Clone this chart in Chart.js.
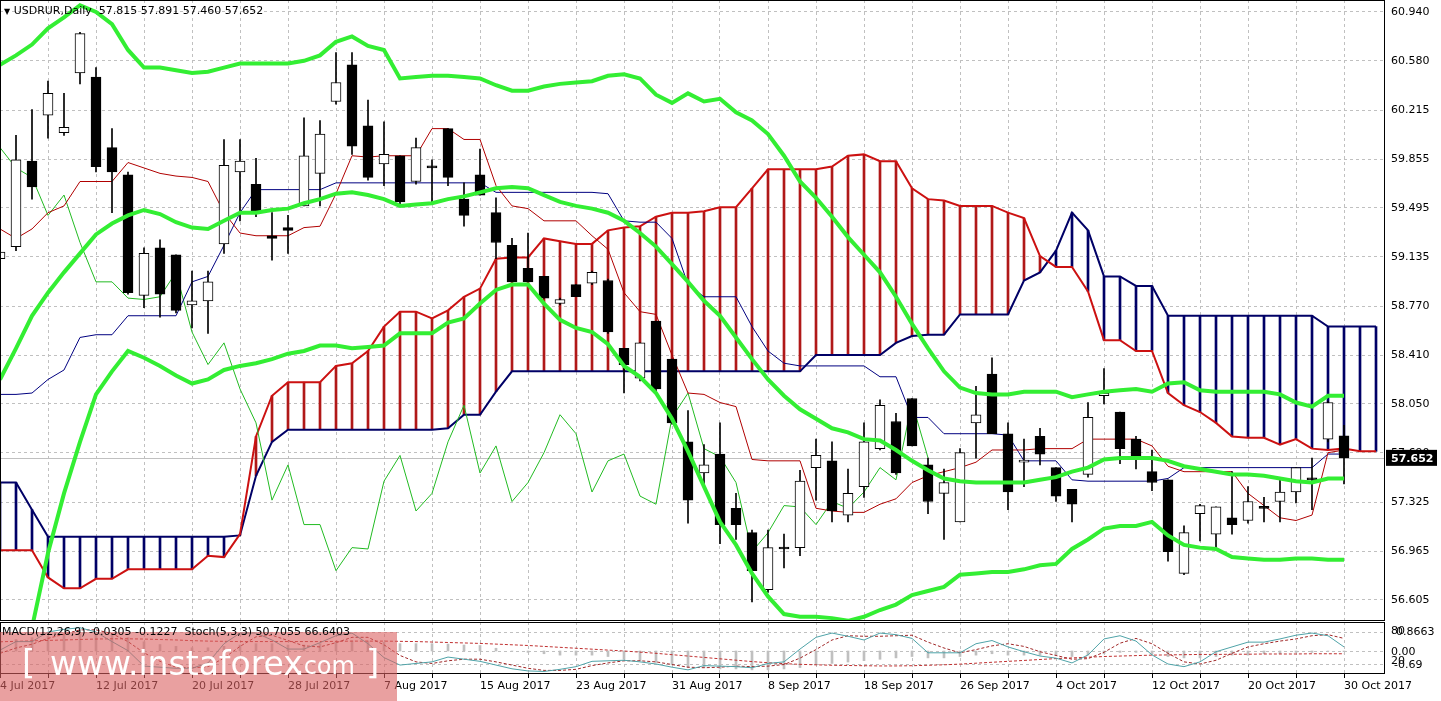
<!DOCTYPE html>
<html>
<head>
<meta charset="utf-8">
<script src="https://cdn.jsdelivr.net/npm/chart.js@4.4.0/dist/chart.umd.min.js"></script>
<style>
  body { margin: 0; background: #fff; width: 1441px; height: 701px; overflow: hidden; position: relative; font-family: "DejaVu Sans", sans-serif; }
  #main { position: absolute; left: 0; top: 0; width: 1441px; height: 621px; }
  #sub { position: absolute; left: 0; top: 621px; width: 1441px; height: 80px; }
  .hdr { position: absolute; font-size: 11px; color: #000; white-space: pre; z-index: 5; }
  #wm { position: absolute; left: 0; top: 632px; width: 397px; height: 69px; background: rgba(218, 96, 96, 0.6); z-index: 3; color: #fff; }
  #wm span { position: absolute; font-family: "DejaVu Sans", sans-serif; }
</style>
</head>
<body>
<div id="main"><canvas id="c1"></canvas></div>
<div id="sub"><canvas id="c2"></canvas></div>
<div class="hdr" style="left:4px;top:4px;"><span style="font-size:8px">▼</span> USDRUR,Daily  57.815 57.891 57.460 57.652</div>
<div class="hdr" style="left:2px;top:625px;">MACD(12,26,9) -0.0305 -0.1227  Stoch(5,3,3) 50.7055 66.6403</div>
<div id="wm">
  <span style="left:22px;top:10px;font-size:34px;">[</span>
  <span style="left:50px;top:12px;font-size:33px;">www.instaforex</span>
  <span style="left:296px;top:20px;font-size:24px;">.com</span>
  <span style="left:366px;top:10px;font-size:34px;">]</span>
</div>
<script>
// daily candles, bar 0 = 4 Jul 2017 ... bar 84 = 30 Oct 2017
const open  = [59.12,59.21,59.84,60.18,60.05,60.49,60.46,59.94,59.74,58.85,59.20,59.15,58.78,58.81,59.23,59.76,59.67,59.29,59.35,59.51,59.75,60.28,60.55,60.10,59.82,59.88,59.69,59.80,60.08,59.56,59.74,59.46,59.22,59.05,58.99,58.79,58.93,58.94,58.96,58.46,58.24,58.66,58.38,57.77,57.54,57.68,57.28,57.10,56.68,56.99,56.99,57.58,57.63,57.23,57.44,57.72,57.92,58.09,57.60,57.39,57.18,57.91,58.27,57.83,57.62,57.81,57.58,57.42,57.53,58.11,57.99,57.79,57.55,57.49,56.80,57.24,57.09,57.21,57.19,57.29,57.33,57.40,57.50,57.79,57.815];
const high  = [59.18,60.03,60.22,60.43,60.34,60.79,60.53,60.08,59.76,59.20,59.26,59.15,59.03,59.03,60.00,60.00,59.86,59.46,59.44,60.16,60.14,60.64,60.64,60.29,60.13,59.88,60.01,59.85,60.08,59.68,59.93,59.57,59.27,59.31,58.99,58.83,58.93,59.03,58.97,58.46,58.50,58.66,58.38,58.00,57.75,57.91,57.39,57.12,57.12,57.09,57.56,57.79,57.77,57.57,57.91,58.08,57.98,58.09,57.65,57.57,57.72,58.18,58.39,57.91,57.79,57.87,57.58,57.42,58.06,58.31,57.99,57.81,57.71,57.49,57.15,57.31,57.29,57.55,57.44,57.36,57.49,57.58,57.65,58.07,57.891];
const low   = [58.93,59.18,59.56,60.01,60.03,60.41,59.76,59.46,58.86,58.76,58.69,58.72,58.61,58.57,59.16,59.40,59.43,59.11,59.16,59.51,59.51,60.26,59.89,59.70,59.66,59.52,59.67,59.54,59.66,59.36,59.59,59.12,58.95,58.95,58.83,58.78,58.84,58.93,58.57,58.13,58.22,58.13,57.90,57.17,57.44,57.02,57.05,56.59,56.66,56.84,56.93,57.34,57.18,57.18,57.36,57.71,57.53,57.74,57.24,57.05,57.18,57.65,57.83,57.27,57.44,57.60,57.33,57.18,57.51,58.05,57.61,57.57,57.41,56.89,56.79,57.04,56.99,57.09,57.17,57.18,57.18,57.32,57.27,57.77,57.460];
const close = [59.17,59.85,59.65,60.34,60.09,60.78,59.80,59.76,58.87,59.16,58.86,58.74,58.81,58.95,59.81,59.84,59.47,59.27,59.33,59.88,60.04,60.42,59.95,59.72,59.89,59.54,59.94,59.79,59.72,59.44,59.59,59.24,58.95,58.95,58.83,58.82,58.84,59.02,58.58,58.34,58.50,58.16,57.91,57.34,57.60,57.16,57.16,56.82,56.99,56.98,57.48,57.67,57.26,57.39,57.77,58.04,57.54,57.74,57.33,57.47,57.69,57.97,57.83,57.40,57.63,57.68,57.37,57.31,57.95,58.13,57.72,57.66,57.47,56.96,57.10,57.30,57.29,57.16,57.33,57.28,57.40,57.58,57.49,58.06,57.652];

// ichimoku
const tenkan = [59.34,59.27,59.34,59.46,59.51,59.69,59.69,59.69,59.83,59.79,59.75,59.73,59.72,59.69,59.46,59.31,59.29,59.29,59.29,59.35,59.36,59.60,59.88,59.87,59.88,59.88,59.88,60.08,60.08,60.00,60.00,59.66,59.51,59.49,59.40,59.40,59.40,59.29,59.19,58.87,58.73,58.71,58.41,58.13,58.12,58.06,58.03,57.64,57.63,57.63,57.63,57.28,57.26,57.25,57.25,57.31,57.35,57.47,57.52,57.55,57.58,57.62,57.71,57.71,57.71,57.72,57.72,57.72,57.79,57.79,57.79,57.79,57.74,57.59,57.55,57.55,57.55,57.55,57.39,57.30,57.21,57.19,57.23,57.69,57.71];
const kijun  = [58.12,58.12,58.13,58.23,58.30,58.54,58.56,58.56,58.70,58.70,58.70,58.70,58.95,58.99,59.22,59.46,59.63,59.63,59.63,59.63,59.63,59.68,59.68,59.68,59.68,59.68,59.68,59.68,59.68,59.68,59.68,59.61,59.61,59.61,59.61,59.61,59.61,59.61,59.60,59.40,59.39,59.39,59.27,58.93,58.84,58.84,58.84,58.62,58.44,58.35,58.33,58.33,58.33,58.33,58.33,58.25,58.25,57.95,57.95,57.83,57.83,57.83,57.83,57.82,57.63,57.63,57.63,57.49,57.48,57.48,57.48,57.48,57.48,57.50,57.58,57.58,57.58,57.58,57.58,57.58,57.58,57.58,57.58,57.68,57.68];
const spanA  = [56.97,56.97,56.97,56.77,56.69,56.69,56.76,56.76,56.83,56.83,56.83,56.83,56.83,56.93,56.92,57.09,57.81,58.11,58.21,58.21,58.21,58.33,58.35,58.44,58.62,58.73,58.73,58.68,58.74,58.84,58.90,59.12,59.13,59.13,59.27,59.25,59.23,59.23,59.33,59.35,59.36,59.43,59.46,59.46,59.47,59.50,59.50,59.64,59.78,59.78,59.78,59.78,59.80,59.88,59.89,59.84,59.84,59.64,59.56,59.55,59.51,59.51,59.51,59.46,59.42,59.14,59.06,59.06,58.88,58.52,58.52,58.44,58.44,58.13,58.04,57.99,57.91,57.81,57.80,57.80,57.75,57.79,57.72,57.71,57.72,57.70,57.70];
const spanB  = [57.47,57.47,57.27,57.07,57.07,57.07,57.07,57.07,57.07,57.07,57.07,57.07,57.07,57.07,57.07,57.08,57.52,57.77,57.86,57.86,57.86,57.86,57.86,57.86,57.86,57.86,57.86,57.86,57.87,57.97,57.97,58.14,58.29,58.29,58.29,58.29,58.29,58.29,58.29,58.29,58.29,58.29,58.29,58.29,58.29,58.29,58.29,58.29,58.29,58.29,58.29,58.41,58.41,58.41,58.41,58.41,58.50,58.55,58.56,58.56,58.71,58.71,58.71,58.71,58.96,59.02,59.18,59.46,59.33,58.99,58.99,58.92,58.92,58.70,58.70,58.70,58.70,58.70,58.70,58.70,58.70,58.70,58.70,58.62,58.62,58.62,58.62];

// bollinger bands
const bbUpper = [60.55,60.62,60.70,60.82,60.90,60.99,60.94,60.85,60.66,60.53,60.53,60.51,60.49,60.50,60.53,60.56,60.56,60.56,60.56,60.58,60.62,60.72,60.76,60.69,60.66,60.45,60.46,60.47,60.47,60.46,60.45,60.40,60.36,60.36,60.39,60.41,60.42,60.43,60.47,60.48,60.45,60.33,60.27,60.34,60.28,60.30,60.20,60.14,60.04,59.88,59.69,59.57,59.43,59.28,59.15,59.02,58.84,58.64,58.46,58.29,58.17,58.13,58.12,58.12,58.14,58.14,58.14,58.10,58.12,58.14,58.15,58.16,58.14,58.20,58.21,58.15,58.14,58.14,58.14,58.14,58.12,58.06,58.03,58.11,58.11];
const bbMid   = [58.23,58.46,58.70,58.87,59.02,59.16,59.30,59.38,59.44,59.48,59.45,59.39,59.35,59.34,59.40,59.46,59.46,59.48,59.49,59.53,59.56,59.60,59.61,59.59,59.56,59.51,59.52,59.53,59.56,59.58,59.61,59.64,59.65,59.64,59.59,59.54,59.51,59.49,59.46,59.40,59.31,59.21,59.08,58.95,58.81,58.70,58.54,58.38,58.23,58.11,58.01,57.94,57.87,57.84,57.79,57.78,57.71,57.63,57.56,57.50,57.48,57.47,57.47,57.47,57.47,57.49,57.51,57.55,57.58,57.64,57.65,57.65,57.65,57.63,57.59,57.57,57.55,57.53,57.53,57.52,57.50,57.48,57.47,57.50,57.50];
const bbLower = [55.40,55.90,56.40,56.95,57.39,57.77,58.12,58.29,58.44,58.39,58.33,58.26,58.20,58.23,58.30,58.33,58.35,58.38,58.42,58.44,58.48,58.48,58.46,58.47,58.48,58.57,58.57,58.57,58.65,58.68,58.79,58.89,58.93,58.93,58.79,58.67,58.61,58.58,58.49,58.33,58.25,58.13,57.94,57.70,57.44,57.18,57.01,56.80,56.63,56.50,56.48,56.48,56.47,56.45,56.48,56.53,56.57,56.64,56.67,56.70,56.79,56.80,56.81,56.81,56.83,56.86,56.87,56.98,57.05,57.13,57.15,57.15,57.18,57.08,57.01,56.99,56.98,56.92,56.91,56.90,56.90,56.91,56.91,56.90,56.90];

// lower window
const stochMain = [46,62,62,80,85,88,80,62,45,16,14,12,12,22,58,78,78,65,48,48,60,73,78,58,32,18,21,24,33,29,25,18,11,7,6,10,15,25,26,27,24,20,14,9,17,16,15,13,21,24,48,70,78,72,65,78,75,68,41,41,41,58,64,52,43,35,31,22,37,67,73,63,37,20,15,24,43,52,61,61,67,74,78,73,52];
const stochSig  = [40,50,57,68,76,84,84,77,62,41,25,14,13,15,31,53,71,74,64,54,52,60,70,70,56,36,24,21,26,29,29,24,18,12,8,8,10,17,22,26,26,24,19,14,13,14,16,15,16,19,31,47,65,73,72,72,73,74,61,50,41,47,54,58,53,43,36,29,30,42,59,68,58,40,24,20,27,40,52,58,63,67,73,75,68];
const macdHist  = [0.45,0.5,0.58,0.65,0.7,0.75,0.75,0.7,0.58,0.4,0.28,0.2,0.14,0.14,0.2,0.26,0.32,0.32,0.26,0.26,0.32,0.38,0.44,0.44,0.38,0.32,0.32,0.32,0.3,0.26,0.24,0.12,0.0,-0.06,-0.12,-0.18,-0.18,-0.18,-0.24,-0.36,-0.42,-0.5,-0.6,-0.72,-0.72,-0.78,-0.78,-0.82,-0.82,-0.78,-0.72,-0.6,-0.54,-0.48,-0.42,-0.36,-0.3,-0.24,-0.3,-0.3,-0.24,-0.18,-0.12,-0.18,-0.18,-0.18,-0.18,-0.24,-0.18,-0.12,-0.06,-0.06,-0.12,-0.24,-0.3,-0.3,-0.24,-0.18,-0.18,-0.12,-0.12,-0.06,-0.06,0.0,-0.03];
const macdSig   = [0.40,0.42,0.44,0.46,0.48,0.50,0.52,0.53,0.53,0.52,0.50,0.48,0.45,0.43,0.42,0.41,0.41,0.41,0.41,0.41,0.41,0.42,0.43,0.43,0.43,0.42,0.41,0.39,0.37,0.35,0.33,0.30,0.27,0.24,0.20,0.16,0.12,0.08,0.04,0.0,-0.05,-0.10,-0.16,-0.22,-0.28,-0.34,-0.40,-0.46,-0.51,-0.55,-0.58,-0.60,-0.62,-0.63,-0.64,-0.65,-0.65,-0.64,-0.62,-0.60,-0.57,-0.53,-0.49,-0.45,-0.41,-0.37,-0.33,-0.30,-0.27,-0.24,-0.22,-0.20,-0.18,-0.17,-0.16,-0.15,-0.15,-0.14,-0.14,-0.13,-0.13,-0.13,-0.12,-0.12,-0.12];

// axis labels
const priceTicks = [60.940,60.580,60.215,59.855,59.495,59.135,58.770,58.410,58.050,57.690,57.325,56.965,56.605];
const dateTickBars = [0,6,12,18,24,30,36,42,48,54,60,66,72,78,84];
const dateTickText = ['4 Jul 2017','12 Jul 2017','20 Jul 2017','28 Jul 2017','7 Aug 2017','15 Aug 2017','23 Aug 2017','31 Aug 2017','8 Sep 2017','18 Sep 2017','26 Sep 2017','4 Oct 2017','12 Oct 2017','20 Oct 2017','30 Oct 2017'];
const lastPrice = 57.652;

const X_MAX = 1385 / 16;
const AXIS_W = 56;
const FONT = { family: 'DejaVu Sans', size: 11 };
const pts = (arr, shift = 0) => arr.map((v, i) => ({ x: i + shift, y: v }));
const gridEvery3 = s => { const t = []; for (let i = 0; i <= 86; i += 3) t.push({ value: i }); s.ticks = t; };
const noPadY = w => s => { s.width = w; s.paddingTop = 0; s.paddingBottom = 0; };
const noPadX = h => s => { s.height = h; s.paddingLeft = 0; s.paddingRight = 0; };

const frame = {
  id: 'frame',
  afterDraw(chart) {
    const { ctx, chartArea: a } = chart;
    ctx.save();
    ctx.strokeStyle = '#000';
    ctx.lineWidth = 1;
    ctx.strokeRect(a.left + 0.5, a.top + 0.5, a.right - a.left - 1, a.bottom - a.top - 1);
    ctx.restore();
  }
};

const priceBox = {
  id: 'priceBox',
  beforeDatasetsDraw(chart) {
    const { ctx, chartArea: a } = chart;
    const y = Math.round(chart.scales.y.getPixelForValue(lastPrice)) + 0.5;
    ctx.save();
    ctx.strokeStyle = '#c0c0c0';
    ctx.beginPath(); ctx.moveTo(a.left, y); ctx.lineTo(a.right, y); ctx.stroke();
    ctx.restore();
  },
  afterDraw(chart) {
    const { ctx, chartArea: a } = chart;
    const y = chart.scales.y.getPixelForValue(lastPrice);
    ctx.save();
    ctx.fillStyle = '#000';
    ctx.fillRect(a.right + 1, y - 8, 51, 16);
    ctx.fillStyle = '#fff';
    ctx.font = 'bold 11px "DejaVu Sans"';
    ctx.textBaseline = 'middle';
    ctx.fillText(lastPrice.toFixed(3), a.right + 6, y + 1);
    ctx.restore();
  }
};

const bodies = open.map((o, i) => ({ x: i, y: [o, close[i]] }));
const wicks = low.map((l, i) => ({ x: i, y: [l, high[i]] }));
const hatch = spanA.map((a, i) => ({ x: i, y: [a, spanB[i]] }));
const hatchColors = spanA.map((a, i) => a > spanB[i] ? '#b01818' : '#000066');

new Chart(document.getElementById('c1'), {
  type: 'bar',
  data: {
    datasets: [
      { type: 'line', data: pts(bbUpper), borderColor: '#33ee33', borderWidth: 4, pointRadius: 0, order: 0 },
      { type: 'line', data: pts(bbMid), borderColor: '#33ee33', borderWidth: 4, pointRadius: 0, order: 0 },
      { type: 'line', data: pts(bbLower), borderColor: '#33ee33', borderWidth: 4, pointRadius: 0, order: 0 },
      { data: bodies, barThickness: 10, minBarLength: 2, borderSkipped: false, borderWidth: 1, borderColor: '#000',
        backgroundColor: open.map((o, i) => close[i] >= o ? '#fff' : '#000'), order: 1 },
      { data: wicks, barThickness: 1, backgroundColor: '#000', order: 2 },
      { type: 'line', data: pts(tenkan), borderColor: '#b00000', borderWidth: 1, pointRadius: 0, order: 3 },
      { type: 'line', data: pts(kijun), borderColor: '#000080', borderWidth: 1, pointRadius: 0, order: 3 },
      { type: 'line', data: pts(close.slice(26)), borderColor: '#22bb22', borderWidth: 1, pointRadius: 0, order: 3 },
      { type: 'line', data: pts(spanA), borderColor: '#cc1111', borderWidth: 2, pointRadius: 0, order: 4 },
      { type: 'line', data: pts(spanB), borderColor: '#000066', borderWidth: 2, pointRadius: 0, order: 4 },
      { data: hatch, barThickness: 2, backgroundColor: hatchColors, order: 5 }
    ]
  },
  options: {
    responsive: true, maintainAspectRatio: false, animation: false,
    datasets: { bar: { grouped: false } },
    plugins: { legend: { display: false }, tooltip: { enabled: false } },
    layout: { padding: 0 },
    scales: {
      x: {
        type: 'linear', min: 0, max: X_MAX, offset: false,
        afterBuildTicks: gridEvery3,
        afterFit: noPadX(0),
        ticks: { display: false },
        grid: { color: '#c0c0c0', drawTicks: false, offset: false },
        border: { display: false, dash: [3, 3] }
      },
      y: {
        position: 'right', min: 60.94 - (621 - 12) / 135.6, max: 60.94 + 12 / 135.6,
        afterBuildTicks: s => { s.ticks = priceTicks.map(v => ({ value: v })); },
        afterFit: noPadY(AXIS_W),
        ticks: { color: '#000', font: FONT, padding: 6, callback: v => v.toFixed(3) },
        grid: { color: '#c0c0c0', drawTicks: false },
        border: { display: false, dash: [3, 3] }
      }
    }
  },
  plugins: [priceBox, frame]
});

// lower window: stoch scale 's', macd scale 'm'
const STO_PX = 32 / 60, MACD_PX = 23;
const macdZeroInStoch = 80 - 19 / STO_PX;
const subLabels = {
  id: 'subLabels',
  afterDraw(chart) {
    const { ctx, chartArea: a } = chart;
    const s = chart.scales.s, m = chart.scales.m;
    ctx.save();
    ctx.fillStyle = '#000';
    ctx.font = '11px "DejaVu Sans"';
    ctx.textBaseline = 'middle';
    const x = a.right + 6;
    ctx.fillText('80', x, s.getPixelForValue(80) - 1);
    ctx.fillText('0.8663', x + 5, s.getPixelForValue(80));
    ctx.fillText('0.00', x, m.getPixelForValue(0) + 1);
    ctx.fillText('20', x, s.getPixelForValue(20) - 3);
    ctx.fillText('-0.69', x + 3, s.getPixelForValue(20) + 1);
    ctx.restore();
  }
};

new Chart(document.getElementById('c2'), {
  type: 'bar',
  data: {
    datasets: [
      { type: 'line', data: pts(stochMain), yAxisID: 's', borderColor: '#4fa3a8', borderWidth: 1, pointRadius: 0, order: 0 },
      { type: 'line', data: pts(stochSig), yAxisID: 's', borderColor: '#a02828', borderWidth: 1, borderDash: [3, 2], pointRadius: 0, order: 1 },
      { type: 'line', data: pts(macdSig), yAxisID: 'm', borderColor: '#c03030', borderWidth: 1, borderDash: [3, 2], pointRadius: 0, order: 2 },
      { data: pts(macdHist), yAxisID: 'm', barThickness: 2, backgroundColor: '#c0c0c0', order: 3 }
    ]
  },
  options: {
    responsive: true, maintainAspectRatio: false, animation: false,
    datasets: { bar: { grouped: false } },
    plugins: { legend: { display: false }, tooltip: { enabled: false } },
    layout: { padding: { top: 1 } },
    scales: {
      x: {
        type: 'linear', min: 0, max: X_MAX, offset: false,
        afterBuildTicks: gridEvery3,
        afterFit: noPadX(27),
        ticks: {
          color: '#000', font: FONT, align: 'start', maxRotation: 0, autoSkip: false, padding: 2,
          callback: v => { const k = dateTickBars.indexOf(v); return k >= 0 ? dateTickText[k] : ''; }
        },
        grid: { color: '#c0c0c0', tickColor: '#000', tickLength: 4, offset: false },
        border: { display: false, dash: [3, 3] }
      },
      s: {
        position: 'right', min: 20 - 10 / STO_PX, max: 80 + 10 / STO_PX,
        afterBuildTicks: s => { s.ticks = [20, macdZeroInStoch, 80].map(v => ({ value: v })); },
        afterFit: noPadY(AXIS_W),
        ticks: { display: false },
        grid: { color: '#c0c0c0', drawTicks: false },
        border: { display: false, dash: [3, 3] }
      },
      m: { display: false, min: -23 / MACD_PX, max: 29 / MACD_PX }
    }
  },
  plugins: [subLabels, frame]
});
</script>
</body>
</html>
